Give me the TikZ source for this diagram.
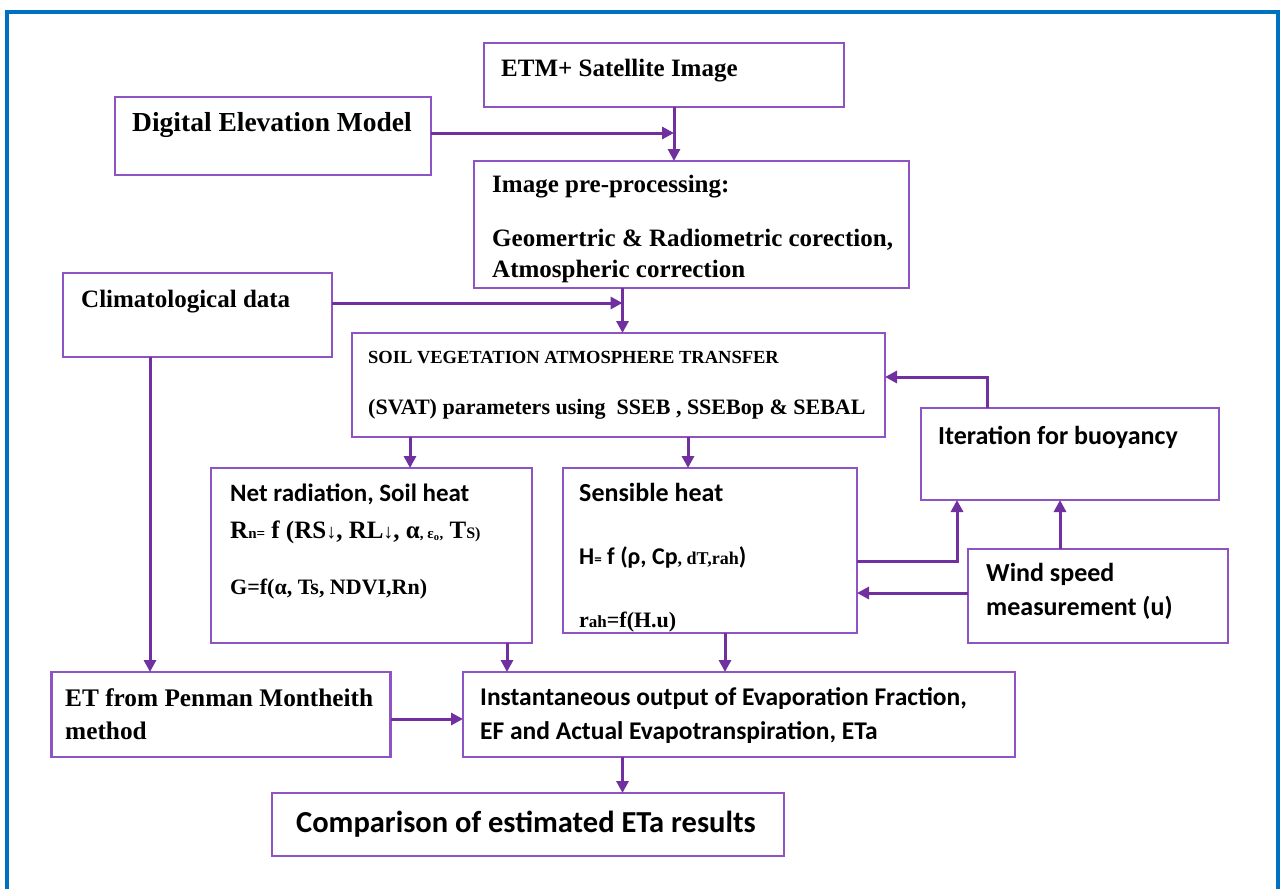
\documentclass[tikz,border=0pt]{standalone}
\usepackage{fontspec}
\setmainfont{Liberation Serif}
\newfontfamily\sansb{Carlito}
\usetikzlibrary{positioning,arrows.meta}
\definecolor{boxcol}{RGB}{142,84,196}
\definecolor{arrcol}{RGB}{112,48,160}
\definecolor{framecol}{RGB}{0,112,192}
\newcommand{\fsz}[2]{\fontsize{#1}{#2}\selectfont}
\tikzset{box node/.style={draw=boxcol,line width=2.5pt,inner sep=0pt,outer sep=0pt,anchor=north west},
  txt node/.style={inner sep=0pt,anchor=north west,align=left,font=\bfseries},
  link/.style={draw=arrcol,line width=3pt,-{Triangle[length=12pt,width=12pt]}},}

\begin{document}
\begin{tikzpicture}[x=1pt,y=-1pt]
    \useasboundingbox (0,0) rectangle (1281,888);
    \draw[framecol,line width=4pt] (6.5,12) rectangle (1278,930);

    % boxes
    \node[box node,minimum width=360,minimum height=64] (etm) at (484,43) {};
    \node[box node,minimum width=316,minimum height=78] (dem) at (115,97) {};
    \node[box node,minimum width=435,minimum height=127] (pre) at (474,161) {};
    \node[box node,minimum width=269,minimum height=84] (clim) at (63,273) {};
    \node[box node,minimum width=533,minimum height=104] (svat) at (352,333) {};
    \node[box node,minimum width=298,minimum height=92] (iter) at (921,408) {};
    \node[box node,minimum width=321,minimum height=175] (net) at (211,468) {};
    \node[box node,minimum width=294,minimum height=165] (sens) at (563,468) {};
    \node[box node,minimum width=260,minimum height=94] (wind) at (968,549) {};
    \node[box node,minimum width=339,minimum height=85] (etpm) at (51.5,672) {};
    \node[box node,minimum width=552,minimum height=85] (inst) at (463,672) {};
    \node[box node,minimum width=512,minimum height=63] (comp) at (272,793) {};

    % texts
    \node[txt node,font=\bfseries\fsz{25}{30},below right=15.5pt and 17pt of etm.north west] (etmtxt) {ETM+ Satellite Image};
    \node[txt node,font=\bfseries\fsz{27.5}{32},below right=15.5pt and 17pt of dem.north west] (demtxt) {Digital Elevation Model};
    \node[txt node,font=\bfseries\fsz{25}{31},below right=13.5pt and 18pt of pre.north west] (pretxt)
        {Image pre-processing:\\[23pt]
         Geomertric \& Radiometric corection,\\
         Atmospheric correction};
    \node[txt node,font=\bfseries\fsz{25}{30},below right=16.5pt and 18pt of clim.north west] (climtxt) {Climatological data};
    \node[txt node,font=\bfseries\fsz{22}{51.5},below right=18pt and 16pt of svat.north west] (svattxt)
        {{\fsz{18.5}{51.5}SOIL VEGETATION ATMOSPHERE TRANSFER}\\
         (SVAT) parameters using\ \ SSEB , SSEBop \& SEBAL};
    \node[txt node,font=\bfseries\sansb\fsz{26}{32},below right=18pt and 17pt of iter.north west] (itertxt) {Iteration for buoyancy};
    \node[txt node,font=\bfseries\fsz{25}{37},below right=15.5pt and 19pt of net.north west] (nettxt)
        {{\sansb\fsz{25}{37}Net radiation, Soil heat}\\
         R{\fsz{15}{15}n=} f (RS{\fsz{20}{20}↓}, RL{\fsz{20}{20}↓}, α{\fsz{15}{15}, ε\textsubscript{o},} T{\fsz{16}{16}S)}\\[19pt]
         {\fsz{22}{37}G=f(α, Ts, NDVI,Rn)}};
    \node[txt node,font=\bfseries\sansb\fsz{26}{63},below right=15pt and 16pt of sens.north west] (senstxt)
        {Sensible heat\\
         {\fsz{24}{63}H{\fsz{15}{15}=} f (ρ, Cp{\rmfamily\fsz{18}{18}, dT,rah}{\fsz{24}{63})}}\\
         {\rmfamily\fsz{22}{63}r{\fsz{17}{17}ah}=f(H.u)}};
    \node[txt node,font=\bfseries\sansb\fsz{26}{34},below right=14pt and 18pt of wind.north west] (windtxt)
        {Wind speed\\ measurement (u)};
    \node[txt node,font=\bfseries\fsz{25.3}{33},below right=16.5pt and 13.5pt of etpm.north west] (etpmtxt)
        {ET from Penman Montheith\\ method};
    \node[txt node,font=\bfseries\sansb\fsz{25.5}{34},below right=15.5pt and 17pt of inst.north west] (insttxt)
        {Instantaneous output of Evaporation Fraction,\\ EF and Actual Evapotranspiration, ETa};
    \node[txt node,font=\bfseries\sansb\fsz{30.5}{36},below right=18pt and 24pt of comp.north west] (comptxt)
        {Comparison of estimated ETa results};

    % attach points
    \coordinate (a1) at ([xshift=10]etm.south);
    \coordinate (a2) at ([yshift=3]dem.east);
    \coordinate (a3) at ([xshift=-69]pre.south);
    \coordinate (a4) at ([yshift=12]clim.east);
    \coordinate (a5) at ([xshift=38.5]net.north);
    \coordinate (a6) at ([xshift=-22]sens.north);
    \coordinate (a7) at ([xshift=-83]iter.north);
    \coordinate (a8) at ([yshift=-10.5]sens.east);
    \coordinate (a9) at ([xshift=-38]wind.north);
    \coordinate (a10) at ([yshift=3]wind.west);
    \coordinate (a11) at ([xshift=-47.5]clim.south);
    \coordinate (a12) at ([xshift=135.5]net.south);
    \coordinate (a13) at ([xshift=15]sens.south);
    \coordinate (a14) at ([yshift=-4.5]etpm.east);
    \coordinate (a15) at ([xshift=-116.5]inst.south);

    % connectors
    \draw[link] (a1) -- (a1 |- pre.north);
    \draw[link] (a2) -- (a2 -| a1);
    \draw[link] (a3) -- (a3 |- svat.north);
    \draw[link] (a4) -- (a4 -| a3);
    \draw[link] (a5 |- svat.south) -- (a5);
    \draw[link] (a6 |- svat.south) -- (a6);
    \draw[link] (a7) |- ([yshift=8]svat.east);
    \draw[link] (a8) -| ([xshift=-113]iter.south);
    \draw[link] (a9) -- (a9 |- iter.south);
    \draw[link] (a10) -- (a10 -| sens.east);
    \draw[link] (a11) -- (a11 |- etpm.north);
    \draw[link] (a12) -- (a12 |- inst.north);
    \draw[link] (a13) -- (a13 |- inst.north);
    \draw[link] (a14) -- (a14 -| inst.west);
    \draw[link] (a15) -- (a15 |- comp.north);
\end{tikzpicture}
\end{document}
